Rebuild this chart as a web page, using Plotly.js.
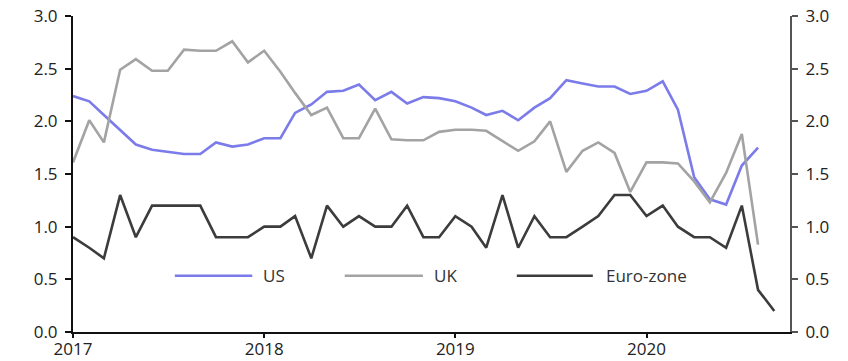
<!DOCTYPE html>
<html>
<head>
<meta charset="utf-8">
<script src="https://cdn.plot.ly/plotly-3.0.1.min.js"></script>
<style>
  html, body { margin: 0; padding: 0; background: #ffffff; }
  #chart { width: 848px; height: 361px; }
</style>
</head>
<body>
<div id="chart"></div>
<script>
const months = [
  '2017-01-01','2017-02-01','2017-03-01','2017-04-01','2017-05-01','2017-06-01',
  '2017-07-01','2017-08-01','2017-09-01','2017-10-01','2017-11-01','2017-12-01',
  '2018-01-01','2018-02-01','2018-03-01','2018-04-01','2018-05-01','2018-06-01',
  '2018-07-01','2018-08-01','2018-09-01','2018-10-01','2018-11-01','2018-12-01',
  '2019-01-01','2019-02-01','2019-03-01','2019-04-01','2019-05-01','2019-06-01',
  '2019-07-01','2019-08-01','2019-09-01','2019-10-01','2019-11-01','2019-12-01',
  '2020-01-01','2020-02-01','2020-03-01','2020-04-01','2020-05-01','2020-06-01',
  '2020-07-01','2020-08-01','2020-09-01'
];

const usValues = [
  2.24, 2.19, 2.06, 1.92, 1.78, 1.73, 1.71, 1.69, 1.69, 1.80, 1.76, 1.78,
  1.84, 1.84, 2.08, 2.16, 2.28, 2.29, 2.35, 2.20, 2.28, 2.17, 2.23, 2.22,
  2.19, 2.13, 2.06, 2.10, 2.01, 2.13, 2.22, 2.39, 2.36, 2.33, 2.33, 2.26,
  2.29, 2.38, 2.11, 1.47, 1.26, 1.21, 1.58, 1.75
];

const ukValues = [
  1.61, 2.01, 1.80, 2.49, 2.59, 2.48, 2.48, 2.68, 2.67, 2.67, 2.76, 2.56,
  2.67, 2.47, 2.27, 2.06, 2.13, 1.84, 1.84, 2.12, 1.83, 1.82, 1.82, 1.90,
  1.92, 1.92, 1.91, 1.81, 1.72, 1.81, 2.00, 1.52, 1.72, 1.80, 1.70, 1.33,
  1.61, 1.61, 1.60, 1.43, 1.23, 1.51, 1.88, 0.83
];

const euroValues = [
  0.9, 0.8, 0.7, 1.3, 0.9, 1.2, 1.2, 1.2, 1.2, 0.9, 0.9, 0.9,
  1.0, 1.0, 1.1, 0.7, 1.2, 1.0, 1.1, 1.0, 1.0, 1.2, 0.9, 0.9,
  1.1, 1.0, 0.8, 1.3, 0.8, 1.1, 0.9, 0.9, 1.0, 1.1, 1.3, 1.3,
  1.1, 1.2, 1.0, 0.9, 0.9, 0.8, 1.2, 0.4, 0.2
];

const seriesNames = ['US', 'UK', 'Euro-zone'];
const seriesColors = ['#7b7bea', '#a3a3a3', '#3c3c3c'];
const yTickVals = [0, 0.5, 1.0, 1.5, 2.0, 2.5, 3.0];
const xTickVals = ['2017-01-01', '2018-01-01', '2019-01-01', '2020-01-01'];
const xTickText = ['2017', '2018', '2019', '2020'];

const FONT = 'Open Sans, Noto Sans, sans-serif';
const FS = 17;

const allValues = [usValues, ukValues, euroValues];
const traces = allValues.map((vals, i) => ({
  type: 'scatter',
  mode: 'lines',
  name: seriesNames[i],
  x: months.slice(0, vals.length),
  y: vals,
  line: { color: seriesColors[i], width: 2.6 },
  showlegend: false,
  hoverinfo: 'x+y+name'
}));
// invisible trace to activate right axis
traces.push({
  type: 'scatter', mode: 'lines', x: [months[0]], y: [0], yaxis: 'y2',
  showlegend: false, hoverinfo: 'skip', line: { color: 'rgba(0,0,0,0)' }
});

// custom legend (long line samples as in the reference)
const legendY = 0.178;
const legendItems = [
  { x0: 0.142, x1: 0.250, tx: 0.262 },
  { x0: 0.379, x1: 0.488, tx: 0.500 },
  { x0: 0.619, x1: 0.725, tx: 0.740 }
];
const shapes = legendItems.map((it, i) => ({
  type: 'line', xref: 'paper', yref: 'paper',
  x0: it.x0, x1: it.x1, y0: legendY, y1: legendY,
  line: { color: seriesColors[i], width: 2.6 }
}));
const annotations = legendItems.map((it, i) => ({
  xref: 'paper', yref: 'paper', x: it.tx, y: legendY,
  xanchor: 'left', yanchor: 'middle', showarrow: false,
  text: seriesNames[i],
  font: { family: FONT, size: FS, color: '#333333' }
}));

const layout = {
  width: 848, height: 361,
  margin: { l: 73, r: 58, t: 16, b: 29 },
  paper_bgcolor: '#ffffff', plot_bgcolor: '#ffffff',
  font: { family: FONT, size: FS, color: '#222222' },
  showlegend: false,
  xaxis: {
    type: 'date',
    range: ['2017-01-01', '2020-10-01'],
    tickvals: xTickVals, ticktext: xTickText,
    showgrid: false, zeroline: false,
    showline: true, linecolor: '#111111', linewidth: 2,
    ticks: 'outside', ticklen: 4, tickwidth: 2, tickcolor: '#111111',
    ticklabelstandoff: -3,
    tickfont: { family: FONT, size: FS, color: '#222222' }
  },
  yaxis: {
    range: [0, 3], tickvals: yTickVals, tickformat: '.1f',
    showgrid: false, zeroline: false,
    showline: true, linecolor: '#111111', linewidth: 2,
    ticks: 'outside', ticklen: 6, tickwidth: 2, tickcolor: '#111111',
    ticklabelstandoff: 4,
    tickfont: { family: FONT, size: FS, color: '#222222' }
  },
  yaxis2: {
    range: [0, 3], tickvals: yTickVals, tickformat: '.1f',
    overlaying: 'y', side: 'right',
    showgrid: false, zeroline: false,
    showline: true, linecolor: '#555555', linewidth: 2,
    ticks: 'outside', ticklen: 6, tickwidth: 2, tickcolor: '#555555',
    ticklabelstandoff: 4,
    tickfont: { family: FONT, size: FS, color: '#222222' }
  },
  shapes: shapes,
  annotations: annotations
};

Plotly.newPlot('chart', traces, layout, { displayModeBar: false, staticPlot: true });
</script>
</body>
</html>
